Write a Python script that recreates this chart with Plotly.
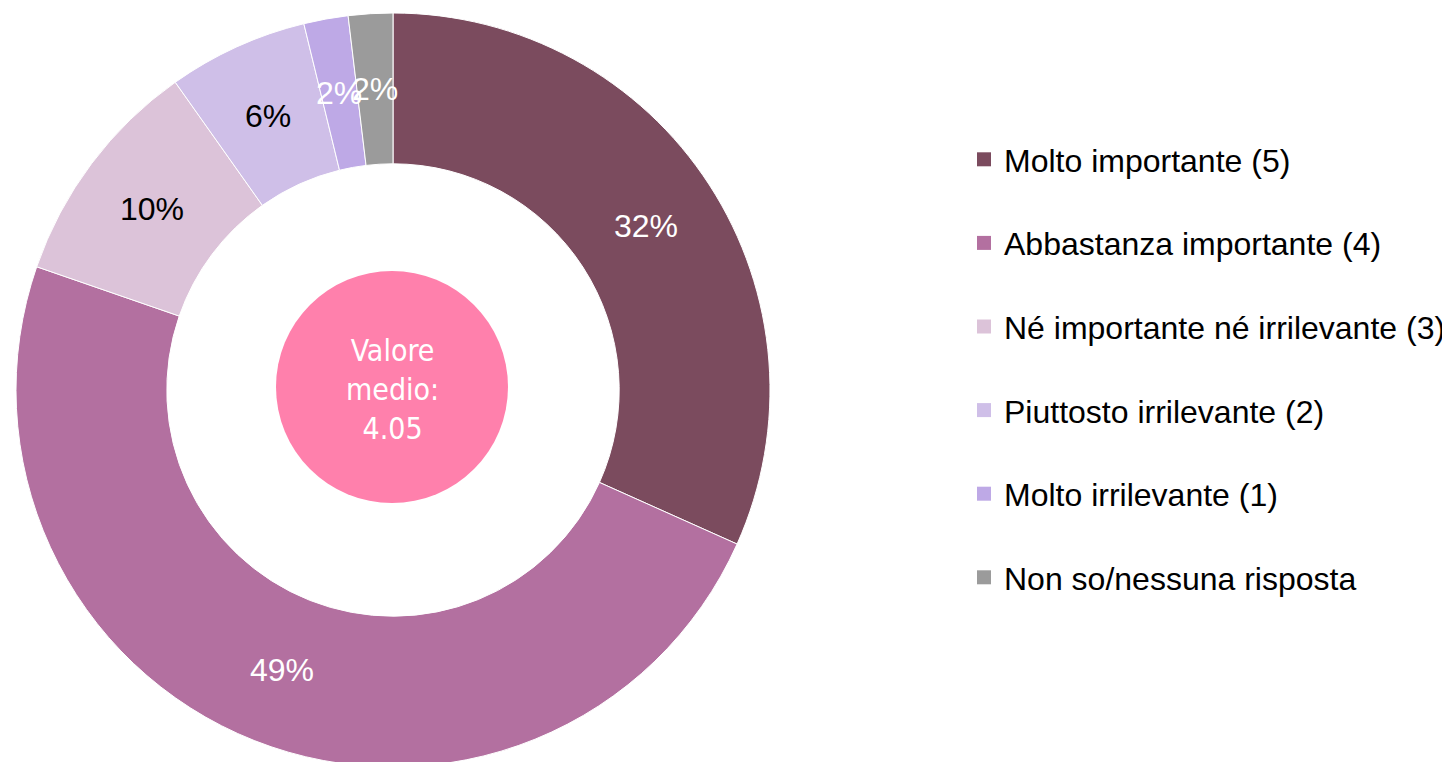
import math
import plotly.graph_objects as go

# ---- data ----
categories = [
    "Molto importante (5)",
    "Abbastanza importante (4)",
    "Né importante né irrilevante (3)",
    "Piuttosto irrilevante (2)",
    "Molto irrilevante (1)",
    "Non so/nessuna risposta",
]
shares = [31.7, 48.6, 9.9, 6.0, 1.9, 1.9]
colors = ["#7B4B5E", "#B370A0", "#DCC3D9", "#CFBFE8", "#BEA9E6", "#9B9B9B"]
label_colors = ["white", "white", "black", "black", "white", "white"]
mean_value = 4.05

W, H = 1450, 762
# page body has an 8px margin; positions below are in figure pixels
CX, CY, R = 385, 382, 377          # pie centre / radius
HOLE = 0.6
CCX, CCY, CR = 384, 379, 116       # centre circle

fig = go.Figure()
fig.add_trace(go.Pie(
    labels=categories, values=shares, sort=False, direction="clockwise",
    rotation=0, hole=HOLE, textinfo="none", hoverinfo="label+percent",
    marker=dict(colors=colors, line=dict(color="white", width=1)),
    domain=dict(x=[(CX - R) / W, (CX + R) / W], y=[(H - CY - R) / H, (H - CY + R) / H]),
    showlegend=False,
))

# legend entries
for cat, col in zip(categories, colors):
    fig.add_trace(go.Scatter(
        x=[None], y=[None], mode="markers", name=cat, legendgroup=cat,
        marker=dict(symbol="square", size=14, color=col),
    ))

# percent labels at mid-ring
total = sum(shares)
cum = 0.0
rm = R * (1 + HOLE) / 2
for v, tc in zip(shares, label_colors):
    mid = (cum + v / 2) / total * 2 * math.pi
    cum += v
    px = CX + rm * math.sin(mid)
    py = CY - rm * math.cos(mid)
    fig.add_annotation(
        x=px / W, y=1 - py / H, xref="paper", yref="paper", showarrow=False,
        xanchor="center", yanchor="middle",
        text=f"{round(v)}%", font=dict(family="Arial, Liberation Sans", size=32, color=tc),
    )

# centre circle
fig.add_shape(type="circle", xref="paper", yref="paper",
              x0=(CCX - CR) / W, x1=(CCX + CR) / W,
              y0=1 - (CCY + CR) / H, y1=1 - (CCY - CR) / H,
              fillcolor="#FF80AC", line=dict(width=0))
fig.add_annotation(x=CCX / W, y=1 - (CCY + 2) / H, xref="paper", yref="paper", showarrow=False,
                   xanchor="center", yanchor="middle",
                   text=f"Valore<br>medio:<br>{mean_value:.2f}",
                   font=dict(family="DejaVu Sans Condensed, DejaVu Sans", size=30, color="white"))

fig.update_layout(
    width=W, height=H, margin=dict(l=0, r=0, t=0, b=0),
    paper_bgcolor="white", plot_bgcolor="white",
    xaxis=dict(visible=False), yaxis=dict(visible=False),
    legend=dict(x=956 / W, xanchor="left", y=1 - 124 / H, yanchor="top",
                font=dict(family="Arial, Liberation Sans", size=32, color="black"),
                tracegroupgap=39, itemsizing="trace", bgcolor="rgba(0,0,0,0)"),
)

fig.write_html("out.html")
